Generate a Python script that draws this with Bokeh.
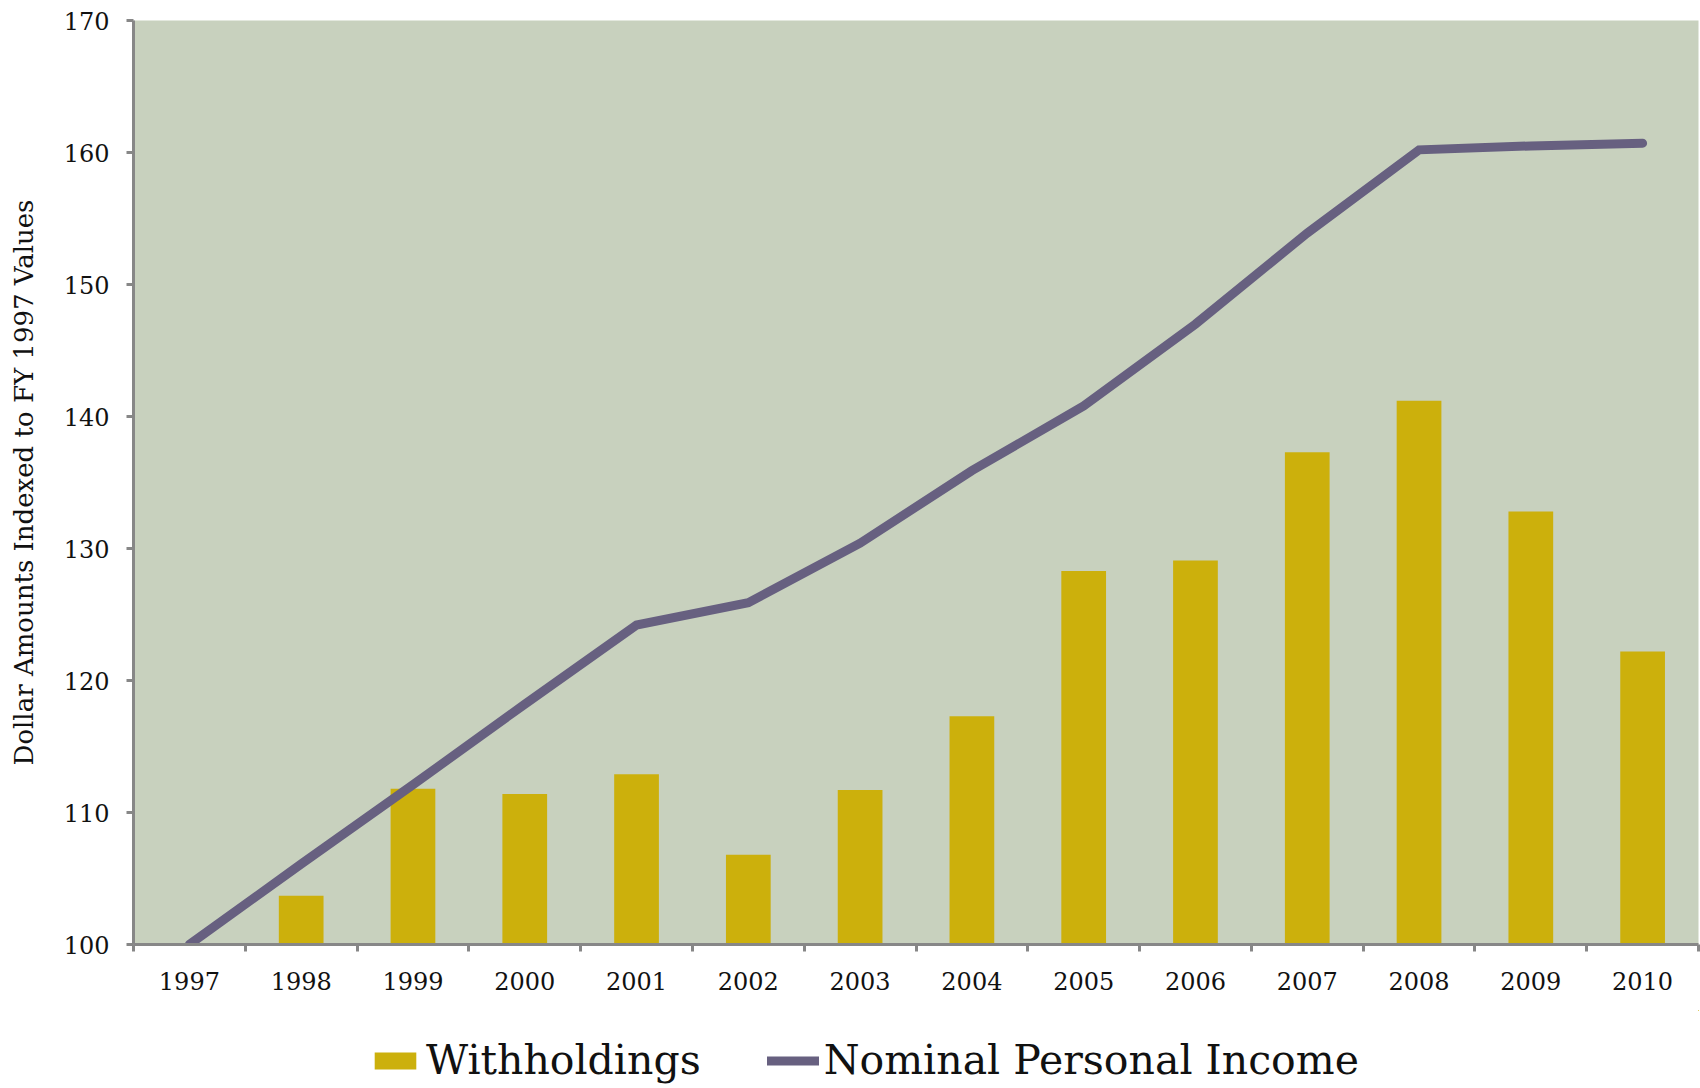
from bokeh.plotting import figure
from bokeh.models import Range1d, FixedTicker, Legend, LegendItem
from bokeh.layouts import column
from bokeh.embed import file_html
from bokeh.resources import INLINE

years = ["1997", "1998", "1999", "2000", "2001", "2002", "2003",
         "2004", "2005", "2006", "2007", "2008", "2009", "2010"]
withholdings = [100.0, 103.7, 111.8, 111.4, 112.9, 106.8, 111.7,
                117.3, 128.3, 129.1, 137.3, 141.2, 132.8, 122.2]
personal_income = [100.0, 106.1, 112.1, 118.2, 124.2, 125.9, 130.4,
                   135.9, 140.8, 147.0, 153.9, 160.2, 160.5, 160.7]
y_ticks = [100, 110, 120, 130, 140, 150, 160, 170]

x_pos = [i + 0.5 for i in range(len(years))]

FONT = "DejaVu Serif"
AXIS_COLOR = "#878787"
BAR_COLOR = "#CCB00C"
LINE_COLOR = "#676080"

p = figure(width=1700, height=1010, output_backend="svg", toolbar_location=None,
           x_range=Range1d(0, len(years)), y_range=Range1d(100, 170),
           min_border_left=133, min_border_right=2, min_border_top=20,
           min_border_bottom=66)
p.background_fill_color = "#C8D1BE"
p.border_fill_color = "white"
p.outline_line_color = None
p.xgrid.grid_line_color = None
p.ygrid.grid_line_color = None

p.vbar(x=x_pos, top=withholdings, bottom=100, width=0.4,
       fill_color=BAR_COLOR, line_color=None)
p.line(x=x_pos, y=personal_income, line_width=9, line_color=LINE_COLOR,
       line_cap="round", line_join="miter")

# y axis
ya = p.yaxis[0]
ya.ticker = FixedTicker(ticks=y_ticks, minor_ticks=[])
ya.axis_line_color = AXIS_COLOR
ya.axis_line_width = 3
ya.major_tick_line_color = AXIS_COLOR
ya.major_tick_line_width = 3
ya.major_tick_in = 0
ya.major_tick_out = 7
ya.minor_tick_line_color = None
ya.major_label_text_font = FONT
ya.major_label_text_font_size = "24px"
ya.major_label_text_color = "#111111"
ya.major_label_standoff = 17
ya.axis_label = "Dollar Amounts Indexed to FY 1997 Values"
ya.axis_label_text_font = FONT
ya.axis_label_text_font_size = "26px"
ya.axis_label_text_font_style = "normal"
ya.axis_label_text_color = "#111111"
ya.axis_label_standoff = 22

# x axis: labels at category centres, tick marks at category boundaries
xa = p.xaxis[0]
xa.ticker = FixedTicker(ticks=x_pos, minor_ticks=list(range(len(years) + 1)))
xa.major_label_overrides = {x: y for x, y in zip(x_pos, years)}
xa.axis_line_color = AXIS_COLOR
xa.axis_line_width = 3
xa.major_tick_line_color = None
xa.major_tick_in = 0
xa.major_tick_out = 7
xa.minor_tick_line_color = AXIS_COLOR
xa.minor_tick_line_width = 3
xa.minor_tick_in = 0
xa.minor_tick_out = 7
xa.major_label_text_font = FONT
xa.major_label_text_font_size = "24px"
xa.major_label_text_color = "#111111"
xa.major_label_standoff = 20

# legend strip below the chart (same series, kept outside its visible range)
lg = figure(width=1700, height=78, output_backend="svg", toolbar_location=None,
            x_range=Range1d(-1000, -999), y_range=Range1d(-1000, -999),
            x_axis_type=None, y_axis_type=None, min_border=0)
lg.outline_line_color = None
lg.background_fill_color = "white"
lg.border_fill_color = "white"
r_bar = lg.vbar(x=x_pos, top=withholdings, bottom=100, width=0.4,
                fill_color=BAR_COLOR, line_color=None)
r_line = lg.line(x=x_pos, y=personal_income, line_width=9, line_color=LINE_COLOR,
                 line_cap="round")

legend = Legend(items=[LegendItem(label="Withholdings", renderers=[r_bar]),
                       LegendItem(label="Nominal Personal Income", renderers=[r_line])],
                orientation="horizontal", location=(236, 4),
                glyph_width=52, glyph_height=21, label_standoff=5, spacing=66,
                padding=0, margin=0, border_line_color=None,
                background_fill_alpha=0,
                label_text_font=FONT, label_text_font_size="41px",
                label_text_color="#111111")
lg.add_layout(legend, "center")

layout = column(p, lg, spacing=0)
open("out.html", "w").write(file_html(layout, INLINE))
